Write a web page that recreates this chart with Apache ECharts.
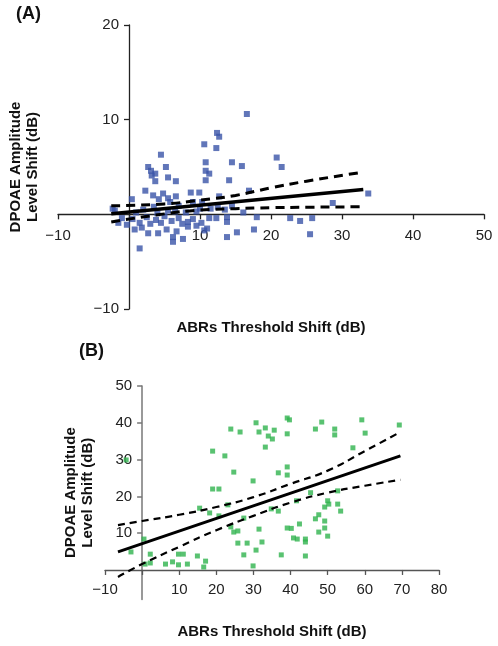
<!DOCTYPE html>
<html><head><meta charset="utf-8">
<script src="https://cdn.jsdelivr.net/npm/echarts@6/dist/echarts.min.js"></script>
<style>html,body{margin:0;padding:0;background:#fff}#c{width:498px;height:646px}</style>
</head><body><div id="c"></div>
<script>
// ---- Panel A data (ABR threshold shift vs DPOAE amplitude level shift) ----
const abrA = [16.6,12.4,12.7,10.6,12.3,4.5,20.8,10.8,14.5,5.2,15.9,21.5,2.7,3.1,3.7,3.2,10.8,11.3,5.5,3.7,6.6,10.8,14.1,2.3,8.7,9.9,3.4,4.8,6.6,5.5,0.4,4.2,5.8,12.7,16.9,9.0,10.3,28.7,33.7,
  -2.0,16.1,18.0,22.7,24.1,25.8,25.5,17.6,15.2,13.8,7.6,6.2,1.5,6.2,0.8,2.7,4.1,1.8,-0.3,5.3,6.7,8.3,8.3,10.6,11.0,12.3,13.8,13.8,11.3,
  0.5,1.5,2.5,3.0,3.8,4.5,5.0,6.0,7.0,7.5,8.0,9.0,9.5,10.2,11.5,12.5,13.5,2.0,3.5,5.5,7.0,-1.0,-2.3,-1.5,1.0,4.0,6.5,10.0,14.5,9.5];
const dpoaeA = [10.6,8.6,8.2,7.4,7.0,6.3,6.0,5.5,5.5,5.0,5.1,5.0,5.0,4.6,4.3,4.1,4.6,4.3,3.9,3.5,3.5,3.6,3.6,2.5,2.3,2.3,2.0,2.2,1.9,1.7,1.6,1.6,1.3,1.9,2.5,1.3,1.3,1.2,2.2,
  0.4,0.2,-0.3,-0.4,-0.7,-0.4,-2.1,-1.6,-1.9,-2.4,-2.6,-2.9,-3.6,-2.4,-1.6,-2.0,-2.0,-1.4,-1.1,-1.6,-1.8,-1.3,-0.8,-1.7,-1.5,-0.4,-0.3,-0.8,-0.4,
  -0.5,-0.9,-0.3,-1.0,-0.6,-0.9,-0.2,-0.7,-0.4,-1.0,0.2,-0.5,0.3,-0.9,0.6,0.8,0.5,0.5,0.8,0.4,0.9,-0.4,0.6,-0.9,0.2,0.1,0.3,0.6,0.9,-1.2];
const fitAx = [-2.5, 33];
const fitAy = [0.07, 2.63];
const ciAx = [-2.5, 5, 10, 15, 20, 25, 32.5];
const upperAy = [0.9, 1.1, 1.5, 2.0, 2.8, 3.5, 4.4];
const lowerAy = [-0.8, 0.05, 0.45, 0.6, 0.7, 0.75, 0.8];
const xTicksA = [-10, 10, 20, 30, 40, 50];
const yTicksA = [-10, 10, 20];

// ---- Panel B data ----
const abrB = [-4.3,-3.0,0.5,2.2,2.2,0.8,6.3,8.2,9.8,11.1,9.8,12.2,14.9,16.6,17.1,15.5,18.2,20.7,19.0,22.3,19.0,20.7,24.7,23.1,23.9,24.7,25.8,25.8,28.3,27.4,27.4,29.9,29.9,30.7,31.5,32.3,33.2,34.8,36.7,36.7,39.1,39.1,37.5,39.1,40.2,40.8,41.8,42.4,44.0,44.0,44.0,41.6,45.4,
  23.9,26.4,30.7,31.5,33.2,34.0,35.1,35.6,39.1,39.7,39.1,48.4,46.7,51.9,51.9,59.2,60.1,69.3,56.8,52.7,50.0,50.3,49.2,52.7,53.5,47.6,46.7,49.2,49.2,47.6,50.0];
const dpoaeB = [29.9,4.9,8.4,4.3,1.9,1.6,1.6,2.2,4.3,4.3,1.4,1.6,3.8,0.8,2.4,16.8,15.5,14.7,32.3,31.0,22.0,22.0,26.6,17.7,11.7,10.3,10.6,7.3,7.3,14.1,4.1,24.2,1.1,5.4,11.1,7.6,33.4,16.6,26.4,16.0,28.0,25.8,4.1,11.4,11.3,8.7,8.4,12.5,8.4,7.6,3.8,18.8,21.0,
  38.3,37.5,40.0,37.5,38.6,36.4,35.6,38.0,41.3,40.8,37.0,40.2,38.3,38.3,36.7,40.8,37.2,39.4,33.2,21.5,18.8,17.9,17.1,17.9,16.0,15.0,13.9,13.3,11.4,10.3,9.2];
const fitBx = [-6.5, 69.6];
const fitBy = [4.9, 31.0];
const ciBx = [-6.5, 0, 10, 20, 30, 40, 50, 60, 69.6];
const upperBy = [12.2, 13.3, 15.0, 17.1, 19.8, 23.4, 27.0, 32.3, 37.5];
const lowerBy = [-1.9, 1.6, 6.3, 10.8, 14.7, 18.3, 21.0, 22.9, 24.5];
const xTicksB = [-10, 10, 20, 30, 40, 50, 60, 70, 80];
const yTicksB = [10, 20, 30, 40, 50];

const zip = (a, b) => a.map((v, i) => [v, b[i]]);
const fmt = v => String(v).replace('-', '\u2212');
const FONT = 'Liberation Sans, Arial, sans-serif';
const nameStyle = {fontFamily: FONT, fontWeight: 'bold', fontSize: 15, color: '#111', lineHeight: 17};

// grid boxes
const gA = {left: 58, top: 25, width: 426, height: 284, xMin: -10, xMax: 50, yMin: -10, yMax: 20};
const gB = {left: 105, top: 386, width: 334, height: 213.4, xMin: -10, xMax: 80, yMin: -8, yMax: 50};
// offsets that move each axis line onto the other axis' zero
const offX = g => -(g.height * (0 - g.yMin) / (g.yMax - g.yMin));
const offY = g => -(g.width * (0 - g.xMin) / (g.xMax - g.xMin));

const chart = echarts.init(document.getElementById('c'), null, {renderer: 'canvas'});
chart.setOption({
  animation: false,
  backgroundColor: '#fff',
  graphic: [
    {type: 'text', left: 16, top: 5, style: {text: '(A)', font: 'bold 18px ' + FONT, fill: '#111'}},
    {type: 'text', left: 79, top: 342, style: {text: '(B)', font: 'bold 18px ' + FONT, fill: '#111'}}
  ],
  grid: [
    {left: gA.left, top: gA.top, width: gA.width, height: gA.height, containLabel: false, outerBoundsMode: 'none'},
    {left: gB.left, top: gB.top, width: gB.width, height: gB.height, containLabel: false, outerBoundsMode: 'none'}
  ],
  xAxis: [
    {gridIndex: 0, type: 'value', min: gA.xMin, max: gA.xMax, interval: 10, offset: offX(gA),
     name: 'ABRs Threshold Shift (dB)', nameLocation: 'middle', nameGap: 105, nameTextStyle: nameStyle,
     axisLine: {onZero: false, lineStyle: {color: '#222', width: 1.3}},
     axisTick: {show: true, length: 5, customValues: xTicksA.concat([0]), lineStyle: {color: '#222', width: 1.3}},
     axisLabel: {customValues: xTicksA, formatter: fmt, margin: 14, fontSize: 15, fontFamily: FONT, color: '#222'},
     splitLine: {show: false}},
    {gridIndex: 1, type: 'value', min: gB.xMin, max: gB.xMax, interval: 10, offset: offX(gB),
     name: 'ABRs Threshold Shift (dB)', nameLocation: 'middle', nameGap: 53, nameTextStyle: nameStyle,
     axisLine: {onZero: false, lineStyle: {color: '#555', width: 1.3}},
     axisTick: {show: true, length: 5, customValues: xTicksB.concat([0]), lineStyle: {color: '#555', width: 1.3}},
     axisLabel: {customValues: xTicksB, formatter: fmt, margin: 12, fontSize: 15, fontFamily: FONT, color: '#222'},
     splitLine: {show: false}}
  ],
  yAxis: [
    {gridIndex: 0, type: 'value', min: gA.yMin, max: gA.yMax, interval: 10, offset: offY(gA),
     name: 'DPOAE Amplitude\nLevel Shift (dB)', nameLocation: 'middle', nameGap: 88, nameTextStyle: nameStyle,
     axisLine: {onZero: false, lineStyle: {color: '#222', width: 1.3}},
     axisTick: {show: true, length: 5, customValues: yTicksA, lineStyle: {color: '#222', width: 1.3}},
     axisLabel: {customValues: yTicksA, formatter: fmt, margin: 10, fontSize: 15, fontFamily: FONT, color: '#222'},
     splitLine: {show: false}},
    {gridIndex: 1, type: 'value', min: gB.yMin, max: gB.yMax, offset: offY(gB),
     name: 'DPOAE Amplitude\nLevel Shift (dB)', nameLocation: 'middle', nameGap: 46, nameTextStyle: nameStyle,
     axisLine: {onZero: false, lineStyle: {color: '#777', width: 1.5}},
     axisTick: {show: true, length: 5, customValues: yTicksB, lineStyle: {color: '#777', width: 1.5}},
     axisLabel: {customValues: yTicksB, formatter: fmt, margin: 10, fontSize: 15, fontFamily: FONT, color: '#222'},
     splitLine: {show: false}}
  ],
  series: [
    {type: 'scatter', xAxisIndex: 0, yAxisIndex: 0, symbol: 'rect', symbolSize: 6,
     itemStyle: {color: '#3a54a8'}, data: zip(abrA, dpoaeA), z: 2},
    {type: 'line', xAxisIndex: 0, yAxisIndex: 0, showSymbol: false, data: zip(fitAx, fitAy),
     lineStyle: {color: '#000', width: 3.5}, z: 3},
    {type: 'line', xAxisIndex: 0, yAxisIndex: 0, showSymbol: false, smooth: true, data: zip(ciAx, upperAy),
     lineStyle: {color: '#000', width: 3, type: [9, 6]}, z: 3},
    {type: 'line', xAxisIndex: 0, yAxisIndex: 0, showSymbol: false, smooth: true, data: zip(ciAx, lowerAy),
     lineStyle: {color: '#000', width: 3, type: [9, 6]}, z: 3},
    {type: 'scatter', xAxisIndex: 1, yAxisIndex: 1, symbol: 'rect', symbolSize: 5,
     itemStyle: {color: '#2fb34d'}, data: zip(abrB, dpoaeB), z: 2},
    {type: 'line', xAxisIndex: 1, yAxisIndex: 1, showSymbol: false, data: zip(fitBx, fitBy),
     lineStyle: {color: '#000', width: 3}, z: 3},
    {type: 'line', xAxisIndex: 1, yAxisIndex: 1, showSymbol: false, smooth: true, data: zip(ciBx, upperBy),
     lineStyle: {color: '#000', width: 2.2, type: [7, 5]}, z: 3},
    {type: 'line', xAxisIndex: 1, yAxisIndex: 1, showSymbol: false, smooth: true, data: zip(ciBx, lowerBy),
     lineStyle: {color: '#000', width: 2.2, type: [7, 5]}, z: 3}
  ]
});
</script></body></html>
